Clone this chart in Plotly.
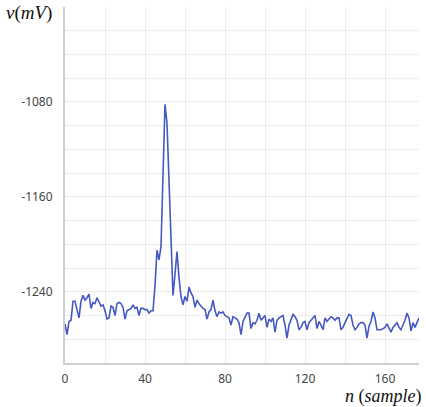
import plotly.graph_objects as go

samples = list(range(178))
voltage_mv = [
    -1267, -1276, -1265, -1264, -1248, -1248, -1255, -1262, -1248, -1243,
    -1247, -1245, -1242, -1254, -1249, -1250, -1245, -1249, -1252, -1251,
    -1256, -1263, -1262, -1252, -1253, -1260, -1250, -1249, -1250, -1253,
    -1263, -1256, -1255, -1254, -1251, -1254, -1253, -1260, -1254, -1254,
    -1255, -1255, -1258, -1256, -1256, -1235, -1205, -1213, -1202, -1140,
    -1082, -1098, -1150, -1200, -1243, -1225, -1206, -1228, -1244, -1251,
    -1244, -1248, -1236, -1241, -1244, -1253, -1247, -1250, -1252, -1254,
    -1255, -1263, -1257, -1255, -1247, -1256, -1261, -1257, -1258, -1257,
    -1260, -1261, -1262, -1268, -1261, -1262, -1263, -1266, -1276, -1265,
    -1262, -1258, -1258, -1271, -1266, -1267, -1264, -1258, -1264, -1262,
    -1260, -1270, -1263, -1265, -1262, -1274, -1264, -1262, -1261, -1260,
    -1268, -1279, -1268, -1264, -1259, -1261, -1264, -1272, -1270, -1266,
    -1265, -1272, -1266, -1264, -1262, -1260, -1271, -1265, -1268, -1272,
    -1262, -1265, -1263, -1261, -1262, -1264, -1262, -1262, -1272, -1270,
    -1266, -1262, -1259, -1260, -1268, -1272, -1270, -1267, -1266, -1266,
    -1268, -1279, -1269, -1265, -1257, -1262, -1272, -1272, -1272, -1271,
    -1270, -1267, -1270, -1274, -1270, -1268, -1266, -1270, -1272, -1268,
    -1264, -1258, -1262, -1273, -1266, -1270, -1266, -1262,
]
x_ticks = [0, 40, 80, 120, 160]
y_ticks = [-1240, -1160, -1080]
y_tick_labels = ["-1240", "-1160", "-1080"]

fig = go.Figure()
fig.add_trace(go.Scatter(
    x=samples, y=voltage_mv, mode="lines",
    line=dict(color="#4659c2", width=1.6),
    hoverinfo="skip",
))

grid = "#ececec"
fig.update_layout(
    width=426, height=407,
    margin=dict(l=65, r=7, t=7, b=44),
    paper_bgcolor="white", plot_bgcolor="white",
    showlegend=False,
    font=dict(family="Noto Sans, Open Sans, sans-serif", size=12, color="#444"),
    xaxis=dict(
        range=[0, 177], tickvals=x_ticks, ticks="",
        showgrid=True, gridcolor=grid, gridwidth=1,
        minor=dict(dtick=20, tick0=0, showgrid=True, gridcolor=grid, gridwidth=1),
        showline=True, linecolor="#cfcfcf", linewidth=2,
        zeroline=False, ticklabelstandoff=4,
    ),
    yaxis=dict(
        range=[-1300, -1000], tickvals=y_ticks, ticktext=y_tick_labels, ticks="",
        showgrid=True, gridcolor=grid, gridwidth=1,
        minor=dict(dtick=20, tick0=-1300, showgrid=True, gridcolor=grid, gridwidth=1),
        showline=True, linecolor="#cfcfcf", linewidth=2,
        zeroline=False, ticklabelstandoff=8,
    ),
    annotations=[
        dict(text="<i>v</i>(<i>mV</i>)", xref="paper", yref="paper",
             x=-0.172, y=0.983, xanchor="left", yanchor="middle", showarrow=False,
             font=dict(family="Liberation Serif, serif", size=19, color="#111")),
        dict(text="<i>n</i> (<i>sample</i>)", xref="paper", yref="paper",
             x=1.015, y=-0.093, xanchor="right", yanchor="middle", showarrow=False,
             font=dict(family="Liberation Serif, serif", size=18, color="#111")),
    ],
)

fig.write_html("out.html", config={"displayModeBar": False},
               post_script="document.body.style.margin='0';")
